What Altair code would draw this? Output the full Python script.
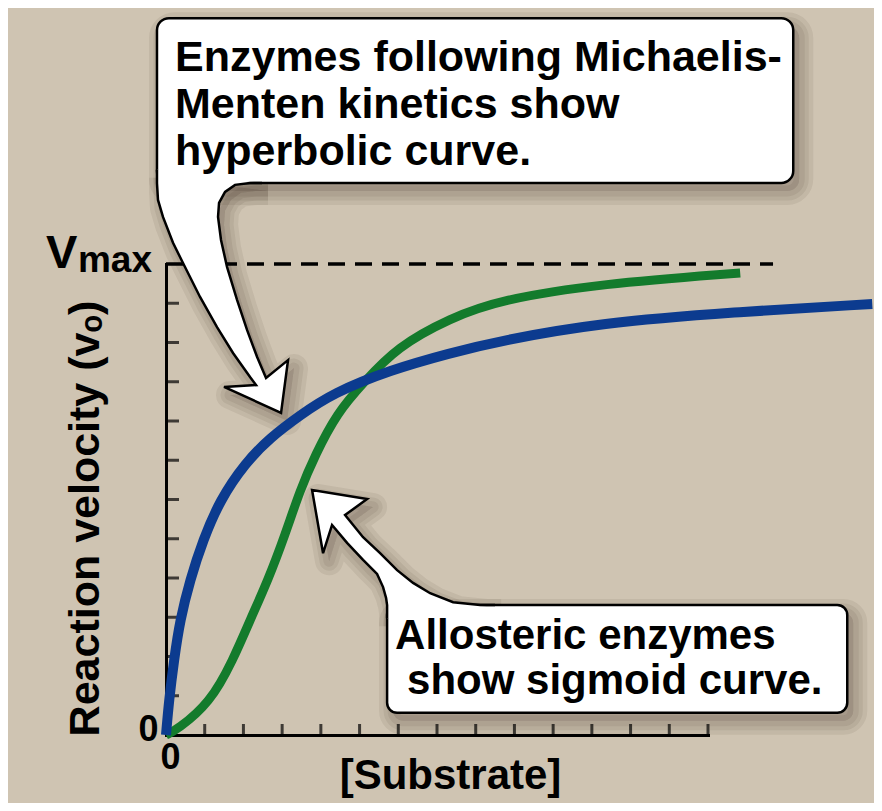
import altair as alt
import pandas as pd

# ---------------- data (substrate in tick units, velocity as fraction of Vmax) ----------------
mm_substrate = [0, 0.078, 0.207, 0.362, 0.620, 0.956, 1.395, 2.041, 2.687, 3.463, 4.315,
                5.788, 7.339, 8.630, 11.214, 14.651, 18.243]
mm_velocity = [0, 0.074, 0.159, 0.244, 0.329, 0.414, 0.499, 0.577, 0.631, 0.679, 0.726,
               0.775, 0.811, 0.837, 0.875, 0.898, 0.915]

allo_substrate = [0, 0.284, 1.137, 1.731, 2.171, 2.636, 3.075, 3.463, 3.850, 4.419, 5.090,
                  5.969, 7.339, 8.630, 11.214, 14.832]
allo_velocity = [0, 0.011, 0.068, 0.159, 0.244, 0.329, 0.425, 0.520, 0.594, 0.684, 0.747,
                 0.824, 0.885, 0.924, 0.958, 0.981]

x_tick_values = list(range(1, 15))
y_tick_values = [k / 12 for k in range(1, 12)]
vmax_value = 1.0
vmax_line_extent = 15.68

# callout 1 (box + curved arrow), in data units
box1_x = [-0.233, 16.202]
box1_y = [1.172, 1.522]
arrow1_x = [-0.233, -0.233, -0.207, -0.078, 0.181, 0.439, 0.879, 1.318, 1.731, 2.171, 2.326,
            1.499, 2.972, 3.152, 2.584, 2.351, 2.093, 1.835, 1.576, 1.421, 1.344, 1.370,
            1.525, 1.783, 2.171, 2.481]
arrow1_y = [1.200, 1.172, 1.136, 1.100, 1.045, 1.002, 0.930, 0.866, 0.811, 0.760, 0.743,
            0.739, 0.684, 0.796, 0.758, 0.803, 0.860, 0.924, 0.994, 1.051, 1.100, 1.130,
            1.153, 1.168, 1.172, 1.172]

# callout 2
box2_x = [5.711, 17.597]
box2_y = [0.047, 0.276]
arrow2_x = [5.711, 5.711, 5.685, 5.607, 5.452, 5.090, 4.677, 4.289, 4.057, 3.773, 5.194,
            4.625, 5.090, 5.530, 5.969, 6.382, 6.822, 7.416, 8.114, 8.501]
arrow2_y = [0.248, 0.276, 0.291, 0.314, 0.342, 0.372, 0.408, 0.446, 0.386, 0.520, 0.501,
            0.467, 0.420, 0.386, 0.350, 0.323, 0.301, 0.282, 0.276, 0.276]

callout1_lines = ["Enzymes following Michaelis-", "Menten kinetics show", "hyperbolic curve."]
callout1_x = [0.233, 0.233, 0.233]
callout1_y = [1.410, 1.310, 1.210]

callout2_lines = ["Allosteric enzymes", "show sigmoid curve."]
callout2_x = [5.917, 6.227]
callout2_y = [0.182, 0.087]

vmax_text = ["V", "max"]
vmax_text_x = [-3.10, -2.274]
vmax_text_y = [0.992, 0.983]

x_title = "[Substrate]"
y_title = "Reaction velocity (v\u2092)"

# ---------------- styling ----------------
FONT = "Liberation Sans"
BG = "#cfc4b2"
BLUE = "#0c3b8f"
GREEN = "#137b2c"
SHADOW = "#2a1d10"

xs = alt.Scale(domain=[0, 14], nice=False, zero=False)
ys = alt.Scale(domain=[0, 1], nice=False, zero=False)

x_axis = alt.Axis(values=[0], title=x_title, domain=True, domainColor="black", domainWidth=3,
                  domainCap="square", ticks=False, tickSize=0, grid=False, labelFlush=False,
                  labelFont=FONT, labelFontSize=36, labelFontWeight="bold", labelColor="black",
                  labelPadding=5, labelOffset=4,
                  titleFont=FONT, titleFontSize=42, titleFontWeight="bold", titleColor="black",
                  titleX=284, titleY=53, titleBaseline="alphabetic", titleAlign="center")
y_axis = alt.Axis(values=[0], title=y_title, domain=True, domainColor="black", domainWidth=3,
                  domainCap="square", ticks=False, tickSize=0, grid=False, labelFlush=False,
                  labelFont=FONT, labelFontSize=36, labelFontWeight="bold", labelColor="black",
                  labelPadding=8, labelOffset=-6,
                  titleFont=FONT, titleFontSize=43, titleFontWeight="bold", titleColor="black",
                  titleAngle=270, titleX=-68, titleY=254, titleBaseline="alphabetic",
                  titleAlign="center")


def poly_df(px, py):
    return pd.DataFrame({"x": px, "y": py, "i": list(range(len(px)))})


def rect_df(bx, by):
    return pd.DataFrame({"x0": [bx[0]], "x1": [bx[1]], "y0": [by[0]], "y1": [by[1]]})


def XY():
    return dict(x=alt.X("x:Q", scale=xs, axis=x_axis), y=alt.Y("y:Q", scale=ys, axis=y_axis))


def RECT():
    return dict(x=alt.X("x0:Q", scale=xs, axis=x_axis), x2="x1:Q",
                y=alt.Y("y0:Q", scale=ys, axis=y_axis), y2="y1:Q")


layers = []

# soft shadows
a1 = poly_df(arrow1_x, arrow1_y)
a2 = poly_df(arrow2_x, arrow2_y)
r1 = rect_df(box1_x, box1_y)
r2 = rect_df(box2_x, box2_y)
for w in [28, 19, 11]:
    for r, cr in [(r1, 12), (r2, 10)]:
        layers.append(alt.Chart(r).mark_rect(
            fill=SHADOW, fillOpacity=0.04, stroke=SHADOW, strokeOpacity=0.07, strokeWidth=w,
            strokeJoin="round", cornerRadius=cr, xOffset=6, x2Offset=6, yOffset=8, y2Offset=8
        ).encode(**RECT()))
    for a in [a1, a2]:
        layers.append(alt.Chart(a).mark_line(
            fill=SHADOW, fillOpacity=0.04, stroke=SHADOW, strokeOpacity=0.07, strokeWidth=w,
            strokeJoin="round", xOffset=6, yOffset=8
        ).encode(order="i:Q", **XY()))

# Vmax dashed line
layers.append(alt.Chart(pd.DataFrame({"x0": [0], "x1": [vmax_line_extent], "y": [vmax_value]}))
              .mark_rule(color="black", strokeWidth=3.5, strokeDash=[17, 10])
              .encode(x=alt.X("x0:Q", scale=xs, axis=x_axis), x2="x1:Q",
                      y=alt.Y("y:Q", scale=ys, axis=y_axis)))

# inward ticks
layers.append(alt.Chart(pd.DataFrame({"x": x_tick_values, "y": [0] * len(x_tick_values)}))
              .mark_tick(orient="vertical", size=11, thickness=3, color="black", yOffset=-5.5)
              .encode(**XY()))
layers.append(alt.Chart(pd.DataFrame({"x": [0] * len(y_tick_values), "y": y_tick_values}))
              .mark_tick(orient="horizontal", size=13, thickness=3, color="black", xOffset=6.5)
              .encode(**XY()))

# curves
green = (alt.Chart(pd.DataFrame({"x": allo_substrate, "y": allo_velocity}))
         .mark_line(color=GREEN, strokeWidth=9, interpolate="basis")
         .encode(**XY()))
blue = (alt.Chart(pd.DataFrame({"x": mm_substrate, "y": mm_velocity}))
        .mark_line(color=BLUE, strokeWidth=10, interpolate="basis")
        .encode(**XY()))
layers += [green, blue]

# callouts
for r, a, cr in [(r1, a1, 12), (r2, a2, 10)]:
    layers.append(alt.Chart(r).mark_rect(fill="white", stroke="black", strokeWidth=2.5,
                                         cornerRadius=cr).encode(**RECT()))
    layers.append(alt.Chart(a).mark_line(fill="white", strokeWidth=0)
                  .encode(order="i:Q", **XY()))
    layers.append(alt.Chart(a).mark_line(color="black", strokeWidth=2.5, strokeJoin="miter")
                  .encode(order="i:Q", **XY()))

txt1 = pd.DataFrame({"x": callout1_x, "y": callout1_y, "t": callout1_lines})
txt2 = pd.DataFrame({"x": callout2_x, "y": callout2_y, "t": callout2_lines})
for t, fs in [(txt1, 43), (txt2, 42)]:
    layers.append(alt.Chart(t).mark_text(font=FONT, fontSize=fs, fontWeight="bold",
                                         color="black", align="left", baseline="alphabetic")
                  .encode(text="t:N", **XY()))

vm = pd.DataFrame({"x": vmax_text_x, "y": vmax_text_y, "t": vmax_text, "s": [47, 37]})
layers.append(alt.Chart(vm).mark_text(font=FONT, fontWeight="bold", color="black",
                                      align="left", baseline="alphabetic")
              .encode(text="t:N", size=alt.Size("s:Q", scale=None, legend=None), **XY()))

chart = (alt.layer(*layers)
         .properties(width=542, height=471,
                     autosize=alt.AutoSizeParams(type="none"),
                     padding={"left": 158, "top": 256, "right": 166, "bottom": 68},
                     background=BG)
         .configure_view(strokeWidth=0))

chart.save("out.html", embed_options={"renderer": "svg", "actions": False})
